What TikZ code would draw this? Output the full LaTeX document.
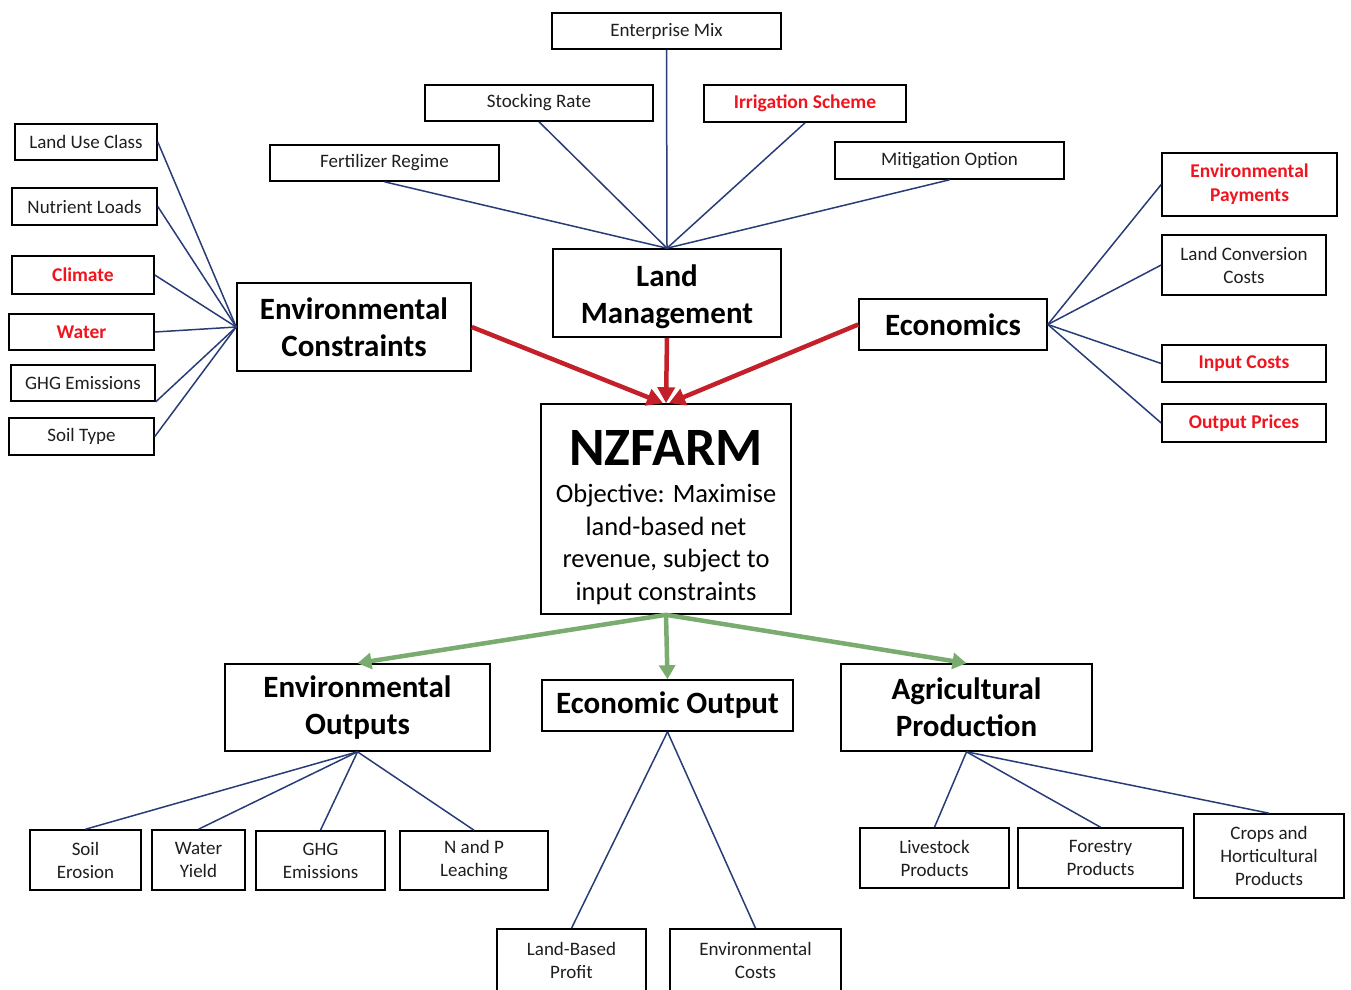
\documentclass[tikz,border=0pt]{standalone}
\usepackage{fontspec}
\setmainfont{Carlito}
\usetikzlibrary{arrows.meta}
\definecolor{navy}{RGB}{40,60,120}
\definecolor{arrred}{RGB}{196,32,42}
\definecolor{arrgreen}{RGB}{122,172,112}
\definecolor{txtred}{RGB}{240,20,30}
\definecolor{txt}{RGB}{30,30,30}
\tikzset{
  box/.style={draw=black, line width=1.6pt, inner sep=0pt, align=center, text=txt},
  small/.style={box, font=\fontsize{19}{23}\selectfont},
  smallred/.style={box, text=txtred, font=\fontsize{19.5}{24}\selectfont\bfseries},
  big/.style={box, text=black, font=\fontsize{31}{37}\selectfont\bfseries},
  link/.style={draw=navy, line width=1.5pt},
  redarr/.style={draw=arrred, line width=4.5pt, -{Triangle[length=16pt,width=17pt]}},
  greenarr/.style={draw=arrgreen, line width=4.5pt, -{Triangle[length=14pt,width=16pt]}},
}
\begin{document}
\begin{tikzpicture}[x=1pt,y=-1pt]
\useasboundingbox (0,0) rectangle (1351,989);
% top inputs
\node[small, minimum width=229, minimum height=36] (em) at (666.5,31) {Enterprise Mix};
\node[small, minimum width=228, minimum height=36] (sr) at (539,103) {Stocking Rate};
\node[smallred, minimum width=202, minimum height=37] (irr) at (805,103.5) {Irrigation Scheme};
\node[small, minimum width=229, minimum height=36] (fert) at (384.5,163) {Fertilizer Regime};
\node[small, minimum width=229, minimum height=37] (mit) at (949.5,160.5) {Mitigation Option};
% main input groups
\node[big, minimum width=228, minimum height=88] (lm) at (667,293) {\rule{0pt}{30pt}Land\\Management};
\node[big, minimum width=234, minimum height=88] (ec) at (354,327) {Environmental\\Constraints};
\node[big, minimum width=188, minimum height=51] (eco) at (953,324.5) {Economics};
% left inputs
\node[small, minimum width=142, minimum height=36] (luc) at (86,142) {Land Use Class};
\node[small, minimum width=145, minimum height=37] (nl) at (84.5,206.5) {Nutrient Loads};
\node[smallred, minimum width=142, minimum height=38] (cl) at (83,275) {Climate};
\node[smallred, minimum width=145, minimum height=36] (wa) at (81.5,332) {Water};
\node[small, minimum width=144, minimum height=36] (ghg) at (83,383) {GHG Emissions};
\node[small, minimum width=145, minimum height=37] (st) at (81.5,436.5) {Soil Type};
% right inputs
\node[smallred, minimum width=175, minimum height=63] (ep) at (1249.5,184.5) {Environmental\\Payments};
\node[small, minimum width=164, minimum height=60] (lcc) at (1244,265) {Land Conversion\\Costs};
\node[smallred, minimum width=164, minimum height=37] (ic) at (1244,363.5) {Input Costs};
\node[smallred, minimum width=164, minimum height=38] (op) at (1244,423) {Output Prices};
% model
\node[box, text=black, minimum width=250, minimum height=210,
      font=\fontsize{26.5}{32.5}\selectfont] (nz) at (666,509)
  {\rule{0pt}{52pt}{\fontsize{54}{58}\selectfont\bfseries NZFARM}\\[5pt]
   Objective: Maximise\\land-based net\\revenue, subject to\\input constraints};
% outputs
\node[big, minimum width=265, minimum height=87] (eo) at (357.5,707.5) {Environmental\\Outputs};
\node[big, minimum width=251, minimum height=51] (eout) at (667.5,705.5) {Economic Output};
\node[big, minimum width=251, minimum height=87] (ap) at (966.5,707.5) {Agricultural\\Production};
% bottom outputs
\node[small, minimum width=111, minimum height=60] (se) at (85.5,860) {Soil\\Erosion};
\node[small, minimum width=93, minimum height=60] (wy) at (198.5,860) {Water\\Yield};
\node[small, minimum width=129, minimum height=59] (ghgo) at (320.5,860.5) {GHG\\Emissions};
\node[small, minimum width=148, minimum height=59] (np) at (474,860.5) {N and P\\Leaching};
\node[small, minimum width=149, minimum height=60] (lp) at (934.5,858) {Livestock\\Products};
\node[small, minimum width=165, minimum height=60] (fp) at (1100.5,858) {Forestry\\Products};
\node[small, minimum width=150, minimum height=84] (chp) at (1269,856) {Crops and\\Horticultural\\Products};
\node[small, minimum width=149, minimum height=63] (lbp) at (571.5,960.5) {Land-Based\\Profit};
\node[small, minimum width=171, minimum height=63] (ecost) at (755.5,960.5) {Environmental\\Costs};
% blue links
\foreach \n in {em,sr,irr,fert,mit} \draw[link] (lm.north) -- (\n.south);
\foreach \n in {luc,nl,cl,wa,st} \draw[link] (ec.west) -- (\n.east);
\draw[link] (ec.west) -- (ghg.south east);
\foreach \n in {ep,lcc,ic,op} \draw[link] (eco.east) -- (\n.west);
\foreach \n in {se,wy,ghgo,np} \draw[link] (eo.south) -- (\n.north);
\foreach \n in {lbp,ecost} \draw[link] (eout.south) -- (\n.north);
\foreach \n in {lp,fp,chp} \draw[link] (ap.south) -- (\n.north);
% red arrows
\draw[redarr] (ec.east) -- ([xshift=-3pt]nz.north);
\draw[redarr] (lm.south) -- (nz.north);
\draw[redarr] (eco.west) -- ([xshift=3pt]nz.north);
% green arrows
\draw[greenarr] (nz.south) -- (eo.north);
\draw[greenarr] (nz.south) -- (eout.north);
\draw[greenarr] (nz.south) -- (ap.north);
\end{tikzpicture}
\end{document}
